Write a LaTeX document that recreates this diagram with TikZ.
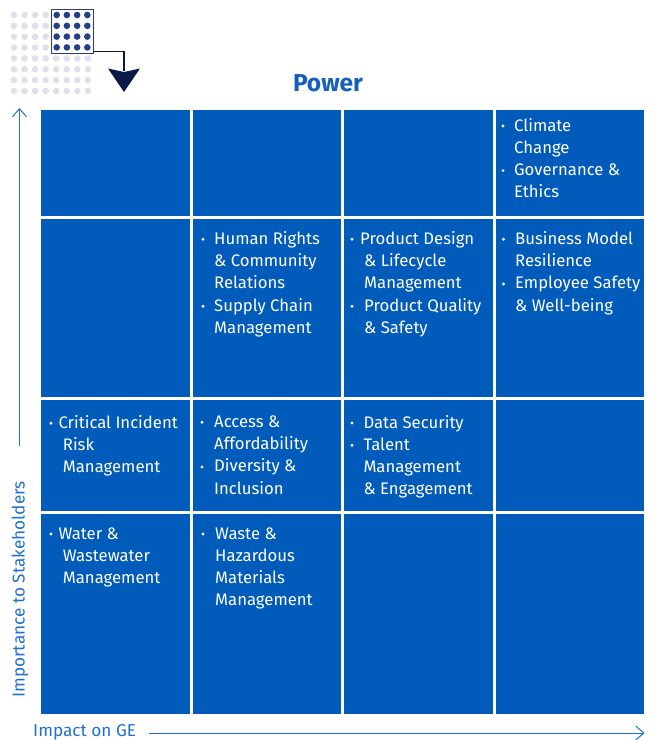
\documentclass[tikz,border=0pt]{standalone}
\usepackage{fontspec}
\setmainfont{Fira Sans}
\usetikzlibrary{arrows.meta}
\definecolor{cellblue}{HTML}{005BBB}
\definecolor{titleblue}{HTML}{1560BD}
\definecolor{axisblue}{HTML}{2070D0}
\definecolor{lightdot}{HTML}{E0E0EC}
\definecolor{darkdot}{HTML}{233E8C}
\definecolor{sqnavy}{HTML}{2A3B78}
\definecolor{arrnavy}{HTML}{0B1947}
\newcommand\cellitem[6]{%
  \fill[white] (#2,#5-5) circle (1.6);
  \foreach \lbl [count=\i from 0] in {#6} {%
    \ifnum\i=0
      \node[celltxt] (#1-\i) at (#3,#5) {\lbl};
    \else
      \node[celltxt] (#1-\i) at (#4,#5+\i*22.3) {\lbl};
    \fi}%
}
\begin{document}
\begin{tikzpicture}[x=1pt,y=-1pt,
  celltxt/.style={anchor=base west,inner sep=0pt,text=white,font=\fontsize{16.7}{20}\selectfont},
  axisline/.style={draw=axisblue,line width=1pt,-{Straight Barb[length=8pt,width=14pt]}},
  axistxt/.style={text=axisblue,font=\fontsize{17.2}{20}\selectfont,inner sep=0pt}]
\useasboundingbox (0,0) rectangle (655,740);
\fill[white] (0,0) rectangle (655,740);
% grid cells
\foreach \xa/\xb in {41/189.5,192.5/341,344/492.5,495.5/644}
  \foreach \ya/\yb in {110/215.5,218.5/397,399.5/511,514/713.5}
    \fill[cellblue] (\xa,\ya) rectangle (\xb,\yb);
% cell texts
\cellitem{cl}{503}{514}{514}{131}{Climate,Change}
\cellitem{ge}{503}{514}{514}{175.6}{Governance \&,Ethics}
\cellitem{hr}{203}{214}{214}{244.3}{Human Rights,\& Community,Relations}
\cellitem{sc}{203}{214}{214}{311.2}{Supply Chain,Management}
\cellitem{pd}{352}{360}{364}{244.3}{Product Design,\& Lifecycle,Management}
\cellitem{pq}{352}{364}{364}{311.2}{Product Quality,\& Safety}
\cellitem{bm}{503.5}{515}{515}{244.3}{Business Model,Resilience}
\cellitem{es}{503.5}{515}{515}{288.9}{Employee Safety,\& Well-being}
\cellitem{ci}{51}{58.3}{62.7}{428.3}{Critical Incident,Risk,Management}
\cellitem{ac}{202}{214}{214}{427.3}{Access \&,Affordability}
\cellitem{di}{202}{214}{214}{471.9}{Diversity \&,Inclusion}
\cellitem{ds}{352}{363.3}{363.3}{428}{Data Security}
\cellitem{tm}{352}{363.3}{363.3}{450.3}{Talent,Management,\& Engagement}
\cellitem{ww}{51}{58.3}{62.7}{539}{Water \&,Wastewater,Management}
\cellitem{wh}{203}{215}{215}{539}{Waste \&,Hazardous,Materials,Management}
% title
\node[anchor=base,text=titleblue,font=\bfseries\fontsize{24.5}{28}\selectfont,inner sep=0pt] (power) at (328,91.5) {Power};
% axes
\node[axistxt,anchor=base west] (xlab) at (33,736.3) {Impact on GE};
\coordinate (xstart) at (149,733);
\coordinate (xend) at (644.5,733);
\draw[axisline] (xstart) -- (xend);
\node[axistxt,rotate=90,anchor=base west] (ylab) at (24.5,698) {Importance to Stakeholders};
\coordinate (ystart) at (19.5,446);
\coordinate (yend) at (19.5,108);
\draw[axisline] (ystart) -- (yend);
% icon
\begin{scope}
  \clip (0,0) rectangle (100,95);
  \foreach \c in {0,...,7}
    \foreach \r in {0,...,7}
      \fill[lightdot] (14+\c*10.55,15+\r*10.85) circle (3.3);
\end{scope}
\node[draw=sqnavy,fill=white,line width=1pt,minimum width=42.6pt,minimum height=44pt,inner sep=0pt,anchor=north west] (sq) at (50.7,9.3) {};
\foreach \c in {0,...,3}
  \foreach \r in {0,...,3}
    \fill[darkdot] (56.7+\c*10.2,15+\r*10.8) circle (3.3);
\coordinate (cs) at (93.3,51.7);
\coordinate (ah) at (124,71);
\draw[arrnavy,line width=1.3pt] (cs) -| (ah);
\fill[arrnavy] (108,68.5) -- (124,72) -- (140,68.5) -- (124,92) -- cycle;
\end{tikzpicture}
\end{document}
